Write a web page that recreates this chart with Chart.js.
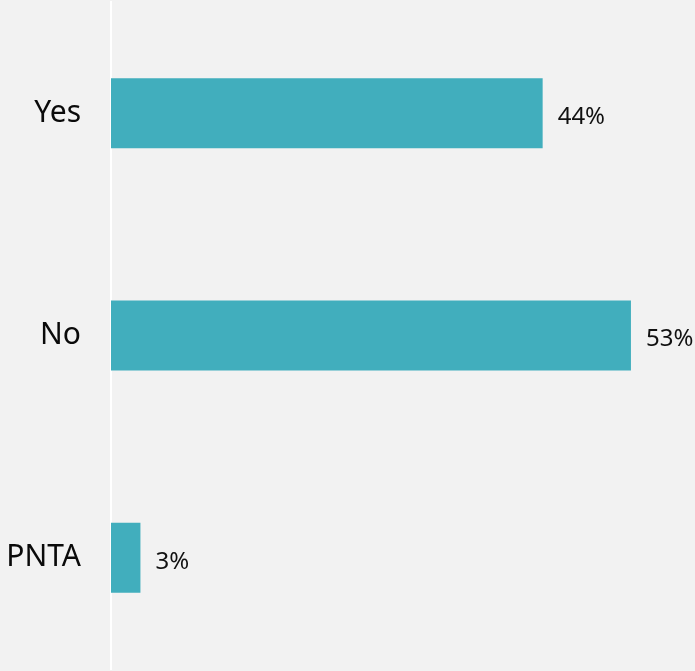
<!DOCTYPE html>
<html>
<head>
<meta charset="utf-8">
<script src="https://cdn.jsdelivr.net/npm/chart.js@4/dist/chart.umd.min.js"></script>
<style>
  html, body { margin: 0; padding: 0; background: #f2f2f2; }
  #wrap { width: 695px; height: 671px; }
</style>
</head>
<body>
<div id="wrap"><canvas id="c" width="695" height="671"></canvas></div>
<script>
const categories = ['Yes', 'No', 'PNTA'];
const shares = [44, 53, 3];
const valueLabels = ['44%', '53%', '3%'];

const FONT = "'Noto Sans', 'Open Sans', sans-serif";

// Writes each bar's percentage just past its end
const barValueLabels = {
  id: 'barValueLabels',
  afterDatasetsDraw(chart) {
    const ctx = chart.ctx;
    const meta = chart.getDatasetMeta(0);
    ctx.save();
    ctx.font = '24px ' + FONT;
    ctx.fillStyle = '#111111';
    ctx.textAlign = 'left';
    ctx.textBaseline = 'middle';
    meta.data.forEach((bar, i) => {
      ctx.fillText(valueLabels[i], bar.x + 15, bar.y + 4);
    });
    ctx.restore();
  }
};

// Paints the page-grey backdrop behind everything
const backdrop = {
  id: 'backdrop',
  beforeDraw(chart) {
    const ctx = chart.ctx;
    ctx.save();
    ctx.fillStyle = '#f2f2f2';
    ctx.fillRect(0, 0, chart.width, chart.height);
    ctx.restore();
  }
};

new Chart(document.getElementById('c'), {
  type: 'bar',
  data: {
    labels: categories,
    datasets: [{
      data: shares,
      backgroundColor: '#41aebd',
      borderWidth: 0,
      barPercentage: 0.63,
      categoryPercentage: 0.5
    }]
  },
  options: {
    indexAxis: 'y',
    responsive: false,
    animation: false,
    layout: { padding: { top: 2, bottom: 2, left: 0, right: 15 } },
    plugins: {
      legend: { display: false },
      tooltip: { enabled: false }
    },
    scales: {
      x: {
        min: 0,
        max: 58,
        display: false,
        grid: { display: false }
      },
      y: {
        afterFit(scale) {
          scale.width = 111;
          scale.paddingTop = 0;
          scale.paddingBottom = 0;
        },
        grid: { display: false, drawTicks: false },
        border: { display: true, color: '#ffffff', width: 2 },
        ticks: {
          padding: 30,
          color: '#0a0a0a',
          font: { family: FONT, size: 30 }
        }
      }
    }
  },
  plugins: [backdrop, barValueLabels]
});
</script>
</body>
</html>
